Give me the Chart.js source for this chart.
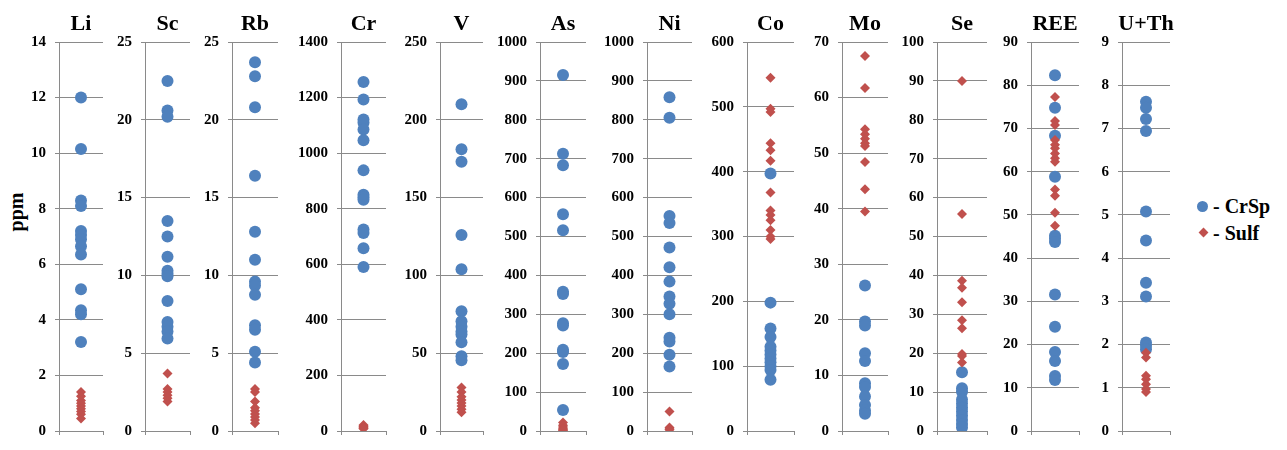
<!DOCTYPE html>
<html>
<head>
<meta charset="utf-8">
<script src="https://cdn.jsdelivr.net/npm/chart.js@4/dist/chart.umd.min.js"></script>
<style>
  html, body { margin: 0; padding: 0; background: #fff; }
  #wrap { position: relative; width: 1287px; height: 450px; overflow: hidden; background: #fff; }
  canvas.panel { position: absolute; top: 0; }
  #ppm { position: absolute; left: 16px; top: 212px; transform: translate(-50%, -50%) rotate(-90deg);
         font: bold 20px "Liberation Serif", "Times New Roman", serif; color: #000; white-space: nowrap; }
  .leg { position: absolute; font: bold 20px "Liberation Serif", "Times New Roman", serif; color: #000; white-space: nowrap; line-height: 1; }
  .dot { position: absolute; width: 11px; height: 11px; border-radius: 50%; background: #4F81BD; }
  .dia { position: absolute; width: 7px; height: 7px; background: #C0504D; transform: rotate(45deg); }
</style>
</head>
<body>
<div id="wrap">
  <div id="ppm">ppm</div>
  <div class="dot" style="left:1197px; top:201px;"></div>
  <div class="leg" style="left:1213px; top:196px;">- CrSp</div>
  <div class="dia" style="left:1200px; top:229px;"></div>
  <div class="leg" style="left:1213px; top:223px;">- Sulf</div>
</div>
<script>
// ---- data ----
const elements = ["Li", "Sc", "Rb", "Cr", "V", "As", "Ni", "Co", "Mo", "Se", "REE", "U+Th"];
const axisMax  = [14, 25, 25, 1400, 250, 1000, 1000, 600, 70, 100, 90, 9];
const axisStep = [2, 5, 5, 200, 50, 100, 100, 100, 10, 10, 10, 1];

const liCrSp  = [12.0, 10.15, 8.3, 8.1, 7.2, 7.05, 6.9, 6.65, 6.35, 5.1, 4.35, 4.2, 3.2];
const liSulf  = [1.4, 1.25, 1.1, 1.0, 0.9, 0.8, 0.7, 0.6, 0.45];
const scCrSp  = [22.5, 20.6, 20.2, 13.5, 12.5, 11.2, 10.3, 10.1, 9.95, 8.35, 7.0, 6.7, 6.4, 5.95];
const scSulf  = [3.7, 2.7, 2.5, 2.3, 2.1, 1.9];
const rbCrSp  = [23.7, 22.8, 20.8, 16.4, 12.8, 11.0, 9.6, 9.35, 8.75, 6.8, 6.5, 5.1, 4.4];
const rbSulf  = [2.7, 2.5, 1.9, 1.5, 1.3, 1.1, 0.9, 0.7, 0.5];
const crCrSp  = [1256, 1193, 1121, 1109, 1085, 1046, 938, 850, 841, 832, 725, 713, 658, 590];
const crSulf  = [22, 18, 15, 12, 10, 8];
const vCrSp   = [210, 181, 173, 126, 104, 77, 70.5, 67, 64, 62, 57, 48, 45.5];
const vSulf   = [28, 25, 22, 20, 18, 16, 14, 12];
const asCrSp  = [915, 713, 683, 557, 516, 358, 352, 277, 271, 209, 203, 172, 54];
const asSulf  = [22, 15, 10, 6, 3, 1];
const niCrSp  = [858, 805, 553, 535, 472, 421, 384, 346, 327, 300, 240, 230, 196, 166];
const niSulf  = [50, 9, 5, 3];
const coCrSp  = [397, 198, 158, 145, 130, 124, 118, 112, 106, 100, 94, 79];
const coSulf  = [545, 497, 492, 444, 433, 417, 368, 340, 333, 325, 310, 300, 296];
const moCrSp  = [26.2, 19.7, 19.0, 14.0, 12.6, 8.6, 7.9, 6.2, 4.7, 3.7, 3.1];
const moSulf  = [67.5, 61.7, 54.3, 53.4, 52.6, 51.8, 51.3, 48.4, 43.5, 39.5];
const seCrSp  = [15.1, 11.0, 10.1, 8.1, 7.1, 6.0, 5.0, 3.9, 2.8, 1.8, 0.9];
const seSulf  = [90, 55.8, 38.6, 36.8, 33.1, 28.5, 26.4, 19.8, 19.3, 17.6];
const reeCrSp = [82.3, 74.8, 68.3, 58.8, 45.2, 44.5, 43.7, 31.6, 24.1, 18.3, 16.2, 12.7, 11.8];
const reeSulf = [77.3, 71.7, 70.8, 67.3, 66.2, 65.4, 64.2, 63.1, 62.3, 55.9, 54.4, 50.5, 47.5];
const uthCrSp = [7.62, 7.48, 7.22, 6.94, 5.08, 4.41, 3.43, 3.11, 2.05, 1.97, 1.89];
const uthSulf = [1.81, 1.70, 1.28, 1.2, 1.08, 0.97, 0.9];

const crspSeries = [liCrSp, scCrSp, rbCrSp, crCrSp, vCrSp, asCrSp, niCrSp, coCrSp, moCrSp, seCrSp, reeCrSp, uthCrSp];
const sulfSeries = [liSulf, scSulf, rbSulf, crSulf, vSulf, asSulf, niSulf, coSulf, moSulf, seSulf, reeSulf, uthSulf];

// ---- layout (pixel positions of each panel's axis and plot width) ----
const axisLeft  = [59, 145, 232, 341, 440, 540, 647, 747, 842, 937, 1031, 1122];
const plotWidth = [50, 51, 52, 51, 49, 52, 51, 53, 52, 56, 54, 54];
const LABEL_W = 52;
const GRID = "#8a8a8a";
const SERIF = '"Liberation Serif", "Times New Roman", serif';
const BLUE = "#4F81BD", RED = "#C0504D";

const titlePlugin = {
  id: "panelTitle",
  afterDraw(chart, args, opts) {
    const ctx = chart.ctx, a = chart.chartArea;
    ctx.save();
    ctx.font = "bold 22px " + SERIF;
    ctx.fillStyle = "#000";
    ctx.textAlign = "center";
    ctx.textBaseline = "alphabetic";
    ctx.fillText(opts.text, (a.left + a.right) / 2, 30);
    ctx.restore();
  }
};

const wrap = document.getElementById("wrap");
elements.forEach((name, i) => {
  const cv = document.createElement("canvas");
  cv.className = "panel";
  const w = LABEL_W + plotWidth[i];
  cv.width = w; cv.height = 450;
  cv.style.left = (axisLeft[i] - LABEL_W) + "px";
  cv.style.width = w + "px"; cv.style.height = "450px";
  wrap.appendChild(cv);
  new Chart(cv, {
    type: "scatter",
    data: {
      datasets: [
        { label: "CrSp", data: crspSeries[i].map(v => ({ x: 1, y: v })),
          pointStyle: "circle", pointRadius: 6, pointHoverRadius: 6,
          backgroundColor: BLUE, borderColor: BLUE, borderWidth: 0, order: 2 },
        { label: "Sulf", data: sulfSeries[i].map(v => ({ x: 1, y: v })),
          pointStyle: "rectRot", pointRadius: 5, pointHoverRadius: 5,
          backgroundColor: RED, borderColor: RED, borderWidth: 0, order: 1 }
      ]
    },
    options: {
      responsive: false,
      animation: false,
      layout: { padding: { top: 42, bottom: 0, left: 0, right: 0 } },
      plugins: { legend: { display: false }, tooltip: { enabled: false }, panelTitle: { text: name } },
      scales: {
        x: {
          type: "linear", min: 0, max: 2,
          ticks: { stepSize: 2, color: "rgba(0,0,0,0)", font: { size: 1 }, padding: 0 },
          grid: { drawOnChartArea: false, tickLength: 4, color: GRID },
          border: { color: GRID },
          afterFit: s => { s.height = 19; }
        },
        y: {
          min: 0, max: axisMax[i],
          ticks: { stepSize: axisStep[i], color: "#000", padding: 9,
                   font: { family: SERIF, weight: "bold", size: 15 },
                   callback: v => String(v) },
          grid: { color: GRID, tickLength: 4 },
          border: { color: GRID },
          afterFit: s => { s.width = LABEL_W; }
        }
      }
    },
    plugins: [titlePlugin]
  });
});
</script>
</body>
</html>
